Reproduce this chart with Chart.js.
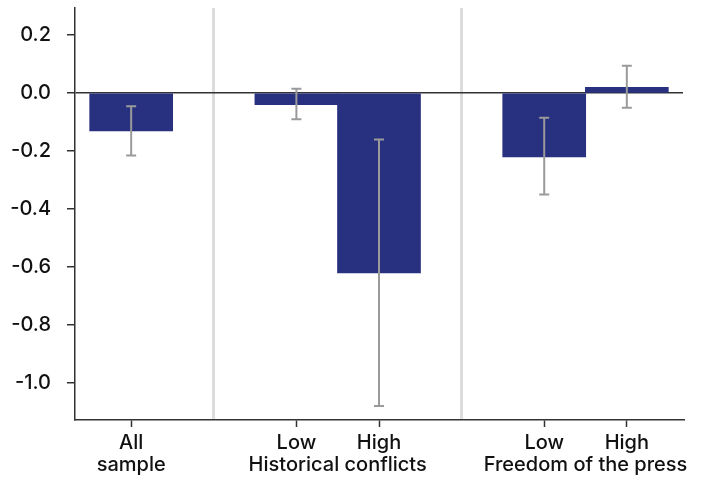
<!DOCTYPE html>
<html>
<head>
<meta charset="utf-8">
<script src="https://cdn.jsdelivr.net/npm/chart.js@4.4.0/dist/chart.umd.min.js"></script>
<style>
  body { margin: 0; background: #fff; }
  #wrap { width: 708px; height: 478px; }
</style>
</head>
<body>
<div id="wrap"><canvas id="myChart"></canvas></div>
<script>
// bar positions on the x scale (1 and 4 are the group separators)
var barPos = [0, 2, 3, 5, 6];
var barValues = [-0.13, -0.04, -0.62, -0.22, 0.02];
var ciLow = [-0.215, -0.09, -1.08, -0.35, -0.05];
var ciHigh = [-0.045, 0.015, -0.16, -0.085, 0.095];

var xTickPos = [0, 1, 2, 2.5, 3, 4, 5, 5.5, 6];
var xTickLabels = [['All', 'sample'], '', 'Low', ['', 'Historical conflicts'], 'High', '', 'Low', ['', 'Freedom of the press'], 'High'];
var separators = [1, 4];
var markTicks = [0, 2, 3, 5, 6];
var yTicks = [0.2, 0, -0.2, -0.4, -0.6, -0.8, -1.0];

var ctx = document.getElementById("myChart").getContext("2d");

var errorBars = {
    id: 'errorBars',
    afterDatasetsDraw: function (chart) {
        var xs = chart.scales.x, ys = chart.scales.y, c = chart.ctx;
        c.save();
        c.strokeStyle = '#9a9a9a';
        c.lineWidth = 2;
        barPos.forEach(function (p, i) {
            var x = xs.getPixelForValue(p);
            var y1 = ys.getPixelForValue(ciLow[i]);
            var y2 = ys.getPixelForValue(ciHigh[i]);
            c.beginPath();
            c.moveTo(x, y1); c.lineTo(x, y2);
            c.moveTo(x - 5, y1); c.lineTo(x + 5, y1);
            c.moveTo(x - 5, y2); c.lineTo(x + 5, y2);
            c.stroke();
        });
        c.restore();
    }
};

var tickFont = { family: 'Inter', size: 20, weight: 500, lineHeight: 1.1 };

var myChart = new Chart(ctx, {
    type: 'bar',
    data: {
        datasets: [{
            data: barPos.map(function (p, i) { return {x: p, y: barValues[i]}; }),
            backgroundColor: '#283080',
            barThickness: 83
        }]
    },
    options: {
        responsive: true,
        maintainAspectRatio: false,
        animation: false,
        layout: { padding: { top: 8, right: 25 } },
        plugins: { legend: { display: false }, tooltip: { enabled: false } },
        scales: {
            x: {
                type: 'linear',
                offset: false,
                min: -0.68,
                max: 6.68,
                afterBuildTicks: function (axis) {
                    axis.ticks = xTickPos.map(function (v) { return {value: v}; });
                },
                afterFit: function (axis) {
                    axis.height = 58;
                    axis.paddingLeft = 0;
                    axis.paddingRight = 0;
                },
                border: { color: '#333', width: 1.5 },
                grid: {
                    offset: false,
                    color: function (c) {
                        return c.tick && separators.indexOf(c.tick.value) >= 0 ? '#dcdcdc' : 'rgba(0,0,0,0)';
                    },
                    lineWidth: 3,
                    tickColor: function (c) {
                        return c.tick && markTicks.indexOf(c.tick.value) >= 0 ? '#333' : 'rgba(0,0,0,0)';
                    },
                    tickWidth: 1.5,
                    tickLength: 7
                },
                ticks: {
                    autoSkip: false,
                    maxRotation: 0,
                    padding: 5,
                    color: '#111',
                    font: tickFont,
                    callback: function (value) {
                        var i = xTickPos.indexOf(value);
                        return i >= 0 ? xTickLabels[i] : '';
                    }
                }
            },
            y: {
                min: -1.128,
                max: 0.294,
                afterBuildTicks: function (axis) {
                    axis.ticks = yTicks.map(function (v) { return {value: v}; });
                },
                afterFit: function (axis) {
                    axis.width = 75;
                    axis.paddingTop = 0;
                    axis.paddingBottom = 0;
                },
                border: { color: '#333', width: 1.5 },
                grid: {
                    color: function (c) {
                        return c.tick && c.tick.value === 0 ? '#333' : 'rgba(0,0,0,0)';
                    },
                    lineWidth: 1.5,
                    tickColor: '#333',
                    tickLength: 8
                },
                ticks: {
                    padding: 16,
                    color: '#111',
                    font: tickFont,
                    callback: function (value) { return value.toFixed(1); }
                }
            }
        }
    },
    plugins: [errorBars]
});
</script>
</body>
</html>
